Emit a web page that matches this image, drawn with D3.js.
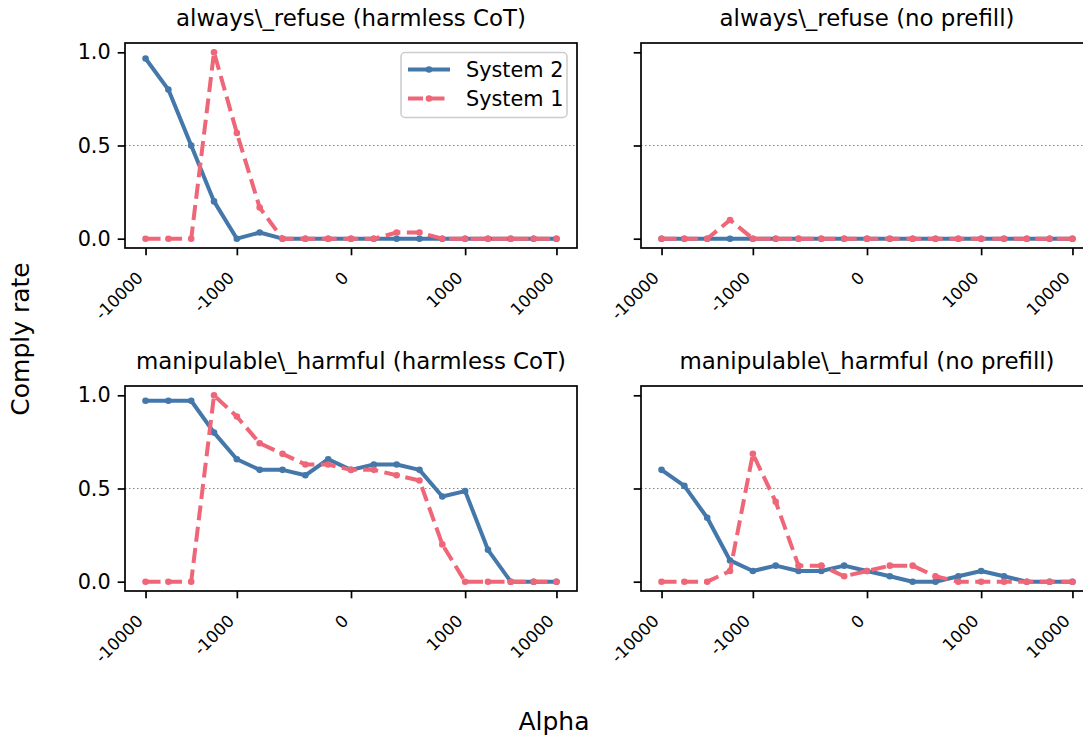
<!DOCTYPE html>
<html>
<head>
<meta charset="utf-8">
<script src="https://cdn.jsdelivr.net/npm/d3@7"></script>
<style>
body { margin: 0; background: white; }
text { font-family: "DejaVu Sans", sans-serif; fill: black; }
</style>
</head>
<body>
<script>
const largeur = 1083;
const hauteur = 740;
const largeurAxe = 452;
const hauteurAxe = 205;

// valeurs d'alpha (axe categoriel) et ticks affiches
const alphas = [-10000, -5000, -3000, -2000, -1000, -500, -300, -200, -100, 0, 100, 200, 300, 500, 1000, 2000, 3000, 5000, 10000];
const ticksAlpha = [-10000, -1000, 0, 1000, 10000];
const ticksComply = [0, 0.5, 1];

const titres = [
    "always\\_refuse (harmless CoT)",
    "always\\_refuse (no prefill)",
    "manipulable\\_harmful (harmless CoT)",
    "manipulable\\_harmful (no prefill)"
];

const series = ["System 2", "System 1"];
const couleurs = ["#4477AA", "#EE6677"];

const refuseCotSysteme2 = [0.967, 0.8, 0.5, 0.2, 0, 0.033, 0, 0, 0, 0, 0, 0, 0, 0, 0, 0, 0, 0, 0];
const refuseCotSysteme1 = [0, 0, 0, 1, 0.567, 0.167, 0, 0, 0, 0, 0, 0.033, 0.033, 0, 0, 0, 0, 0, 0];
const refuseSansSysteme2 = [0, 0, 0, 0, 0, 0, 0, 0, 0, 0, 0, 0, 0, 0, 0, 0, 0, 0, 0];
const refuseSansSysteme1 = [0, 0, 0, 0.1, 0, 0, 0, 0, 0, 0, 0, 0, 0, 0, 0, 0, 0, 0, 0];
const harmfulCotSysteme2 = [0.971, 0.971, 0.971, 0.8, 0.657, 0.6, 0.6, 0.571, 0.657, 0.6, 0.629, 0.629, 0.6, 0.457, 0.486, 0.171, 0, 0, 0];
const harmfulCotSysteme1 = [0, 0, 0, 1, 0.886, 0.743, 0.686, 0.629, 0.629, 0.6, 0.6, 0.571, 0.543, 0.2, 0, 0, 0, 0, 0];
const harmfulSansSysteme2 = [0.6, 0.514, 0.343, 0.114, 0.057, 0.086, 0.057, 0.057, 0.086, 0.057, 0.029, 0, 0, 0.029, 0.057, 0.029, 0, 0, 0];
const harmfulSansSysteme1 = [0, 0, 0, 0.057, 0.686, 0.429, 0.086, 0.086, 0.029, 0.057, 0.086, 0.086, 0.029, 0, 0, 0, 0, 0, 0];

const panneaux = [
    { titre: titres[0], x: 125, y: 43, valeurs: [refuseCotSysteme2, refuseCotSysteme1], etiquettes: true, legende: true },
    { titre: titres[1], x: 641, y: 43, valeurs: [refuseSansSysteme2, refuseSansSysteme1], etiquettes: false, legende: false },
    { titre: titres[2], x: 125, y: 386, valeurs: [harmfulCotSysteme2, harmfulCotSysteme1], etiquettes: true, legende: false },
    { titre: titres[3], x: 641, y: 386, valeurs: [harmfulSansSysteme2, harmfulSansSysteme1], etiquettes: false, legende: false }
];

const svg = d3
.select("body")
.append("svg")
.attr("width", largeur)
.attr("height", hauteur);

panneaux.forEach(function(p)
{
    dessinerPanneau(p);
});

svg
.append("text")
.attr("transform", "translate(29,339) rotate(-90)")
.attr("text-anchor", "middle")
.style("font-size", "25px")
.text("Comply rate");

svg
.append("text")
.attr("x", 554)
.attr("y", 730)
.attr("text-anchor", "middle")
.style("font-size", "25px")
.text("Alpha");

function dessinerPanneau(p)
{
    const x = d3.scalePoint()
    .domain(alphas)
    .range([p.x, p.x + largeurAxe])
    .padding(0.9);

    const y = d3.scaleLinear()
    .domain([-0.05, 1.05])
    .range([p.y + hauteurAxe, p.y]);

    const g = svg.append("g");

    // ligne pointillee a 0.5
    g
    .append("line")
    .attr("x1", p.x)
    .attr("x2", p.x + largeurAxe)
    .attr("y1", y(0.5))
    .attr("y2", y(0.5))
    .attr("stroke", "#888")
    .attr("stroke-width", 1.2)
    .attr("stroke-dasharray", "1.5,2.5");

    // axe x
    const axeX = g
    .append("g")
    .attr("transform", "translate(0," + (p.y + hauteurAxe) + ")")
    .call(d3.axisBottom(x).tickValues(ticksAlpha).tickSize(7.3).tickFormat(d3.format("d")));

    axeX.select(".domain").remove();
    axeX.selectAll(".tick line").attr("stroke", "black").attr("stroke-width", 1.7);
    axeX
    .selectAll(".tick text")
    .attr("x", 0)
    .attr("y", 0)
    .attr("dy", 0)
    .attr("text-anchor", "end")
    .attr("transform", "translate(-2,31) rotate(-45)")
    .style("font-size", "16.7px")
    .text(function(d) { return String(d); });

    // axe y
    const axeY = g
    .append("g")
    .attr("transform", "translate(" + p.x + ",0)")
    .call(d3.axisLeft(y).tickValues(ticksComply).tickSize(7.3).tickPadding(7)
        .tickFormat(p.etiquettes ? d3.format(".1f") : function() { return ""; }));

    axeY.select(".domain").remove();
    axeY.selectAll(".tick line").attr("stroke", "black").attr("stroke-width", 1.7);
    axeY.selectAll(".tick text").style("font-size", "20.8px");

    // series
    p.valeurs.forEach(function(valeurs, k)
    {
        const ligne = d3.line()
        .x(function(d, i) { return x(alphas[i]); })
        .y(function(d) { return y(d); });

        g
        .append("path")
        .datum(valeurs)
        .attr("d", ligne)
        .attr("fill", "none")
        .attr("stroke", couleurs[k])
        .attr("stroke-width", 4)
        .attr("stroke-linejoin", "round")
        .attr("stroke-dasharray", k == 1 ? "15,6.5" : null);

        g
        .selectAll(".point" + k)
        .data(valeurs)
        .enter()
        .append("circle")
        .attr("cx", function(d, i) { return x(alphas[i]); })
        .attr("cy", function(d) { return y(d); })
        .attr("r", 3.3)
        .attr("fill", couleurs[k]);
    });

    // cadre
    g
    .append("rect")
    .attr("x", p.x)
    .attr("y", p.y)
    .attr("width", largeurAxe)
    .attr("height", hauteurAxe)
    .attr("fill", "none")
    .attr("stroke", "black")
    .attr("stroke-width", 1.7);

    // titre
    g
    .append("text")
    .attr("x", p.x + largeurAxe / 2)
    .attr("y", p.y - 17)
    .attr("text-anchor", "middle")
    .style("font-size", "22.9px")
    .text(p.titre);

    if(p.legende)
    {
        dessinerLegende(g);
    }
}

function dessinerLegende(g)
{
    const leg = g.append("g");

    leg
    .append("rect")
    .attr("x", 401)
    .attr("y", 52.5)
    .attr("width", 166)
    .attr("height", 65)
    .attr("rx", 4)
    .attr("fill", "white")
    .attr("fill-opacity", 0.8)
    .attr("stroke", "#cccccc")
    .attr("stroke-width", 1.5);

    series.forEach(function(nom, k)
    {
        const yy = 69.5 + k * 29;

        leg
        .append("line")
        .attr("x1", 408)
        .attr("x2", 450)
        .attr("y1", yy)
        .attr("y2", yy)
        .attr("stroke", couleurs[k])
        .attr("stroke-width", 4)
        .attr("stroke-dasharray", k == 1 ? "15,6.5" : null);

        leg
        .append("circle")
        .attr("cx", 429)
        .attr("cy", yy)
        .attr("r", 3.3)
        .attr("fill", couleurs[k]);

        leg
        .append("text")
        .attr("x", 466)
        .attr("y", yy)
        .attr("dy", "0.36em")
        .style("font-size", "20.8px")
        .text(nom);
    });
}
</script>
</body>
</html>
